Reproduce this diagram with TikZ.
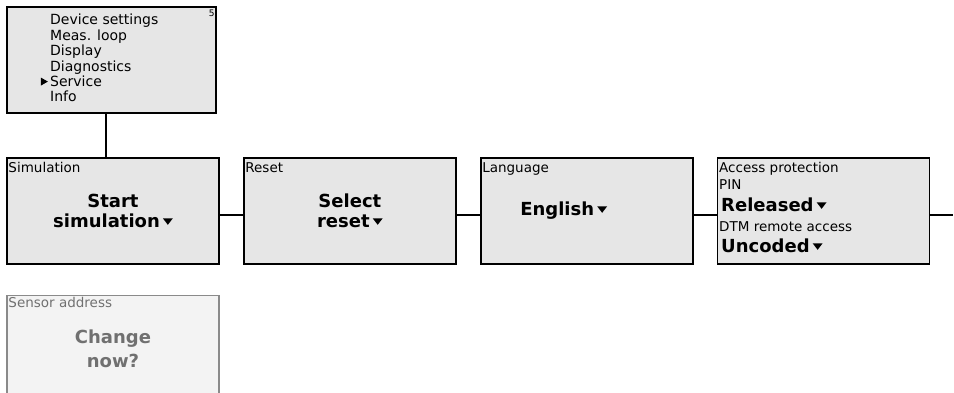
\documentclass[tikz,border=0pt]{standalone}
\usepackage{fontspec}
\setmainfont{DejaVu Sans}
\usetikzlibrary{positioning}
\definecolor{lcdgray}{HTML}{E6E6E6}
\definecolor{lcdpale}{HTML}{F3F3F3}
\definecolor{lcdfaint}{HTML}{8A8A8A}
\definecolor{lcdtext}{HTML}{707070}
\newcommand{\seldown}{\,\tikz[baseline=-2.5pt]\fill (0pt,6.5pt) -- (10pt,6.5pt) -- (5pt,0pt) -- cycle;}
\newcommand{\selright}{\tikz[baseline=-1pt]\fill (0pt,0pt) -- (0pt,8pt) -- (7pt,4pt) -- cycle;}

\begin{document}
\begin{tikzpicture}[
  x=1pt, y=1pt,
  node distance=23.5pt,
  screen/.style={draw=black, line width=1.4pt, fill=lcdgray,
                 minimum width=212pt, minimum height=106pt, inner sep=0pt},
  faintscreen/.style={screen, draw=lcdfaint, fill=lcdpale},
  link/.style={line width=1.6pt},
  screentitle/.style={font=\fontsize{13.5}{15}\selectfont, inner sep=0pt, anchor=base west},
  screenvalue/.style={font=\bfseries\fontsize{18}{20}\selectfont, inner sep=0pt,
                      anchor=base, align=center},
  menuline/.style={font=\fontsize{14}{15.4}\selectfont, inner sep=0pt,
                   anchor=base west, align=left}
]
\useasboundingbox (0,0) rectangle (954,-393);
\clip (0,0) rectangle (954,-393);

% Main menu with the selected entry (base = last line)
\node[screen, minimum width=209pt] (menu) at (111.5,-60) {};
\node[menuline] (menulist) at (50,-102)
  {Device settings\\Meas. loop\\Display\\Diagnostics\\\llap{\selright\,}Service\\Info};
\node[font=\fontsize{9}{9}\selectfont, inner sep=0pt, anchor=base east] (menupage)
  at ([shift={(-2pt,-10pt)}]menu.north east) {5};

% Service screens in a row
\node[screen] (sim) at (113,-211) {};
\node[screen, right=of sim] (reset) {};
\node[screen, right=of reset] (lang) {};
\node[screen, right=of lang] (access) {};
\node[faintscreen, below=30pt of sim] (sensor) {};

\node[screentitle] (simtitle) at ([shift={(2pt,-15pt)}]sim.north west) {Simulation};
\node[screenvalue] (simvalue) at ([yshift=-70pt]sim.north) {Start\\simulation\seldown};

\node[screentitle] (resettitle) at ([shift={(2pt,-15pt)}]reset.north west) {Reset};
\node[screenvalue] (resetvalue) at ([yshift=-70pt]reset.north) {Select\\reset\seldown};

\node[screentitle] (langtitle) at ([shift={(2pt,-15pt)}]lang.north west) {Language};
\node[screenvalue, anchor=base west] (langvalue)
  at ([shift={(40pt,-58pt)}]lang.north west) {English\seldown};

\node[screentitle] (accesstitle) at ([shift={(2pt,-15pt)}]access.north west) {Access protection};
\node[screentitle] (pintitle) at ([shift={(2pt,-32pt)}]access.north west) {PIN};
\node[screenvalue, anchor=base west] (pinvalue)
  at ([shift={(4pt,-54pt)}]access.north west) {Released\seldown};
\node[screentitle] (dtmtitle) at ([shift={(2pt,-74pt)}]access.north west) {DTM remote access};
\node[screenvalue, anchor=base west] (dtmvalue)
  at ([shift={(4pt,-95pt)}]access.north west) {Uncoded\seldown};

% Greyed-out screen below
\node[screentitle, text=lcdtext] (sensortitle)
  at ([shift={(2pt,-13pt)}]sensor.north west) {Sensor address};
\node[screenvalue, text=lcdtext, font=\bfseries\fontsize{18}{24}\selectfont] (sensorvalue)
  at ([yshift=-73pt]sensor.north) {Change\\now?};

% Connections
\coordinate (menudrop) at ([xshift=-5.5pt]menu.south);
\draw[link] (menudrop) -- (menudrop |- sim.north);
\draw[link] ([yshift=-4pt]sim.east) -- ([yshift=-4pt]reset.west);
\draw[link] ([yshift=-4pt]reset.east) -- ([yshift=-4pt]lang.west);
\draw[link] ([yshift=-4pt]lang.east) -- ([yshift=-4pt]access.west);
\coordinate (more) at ([shift={(23pt,-4pt)}]access.east);
\draw[link] ([yshift=-4pt]access.east) -- (more);

\end{tikzpicture}
\end{document}
